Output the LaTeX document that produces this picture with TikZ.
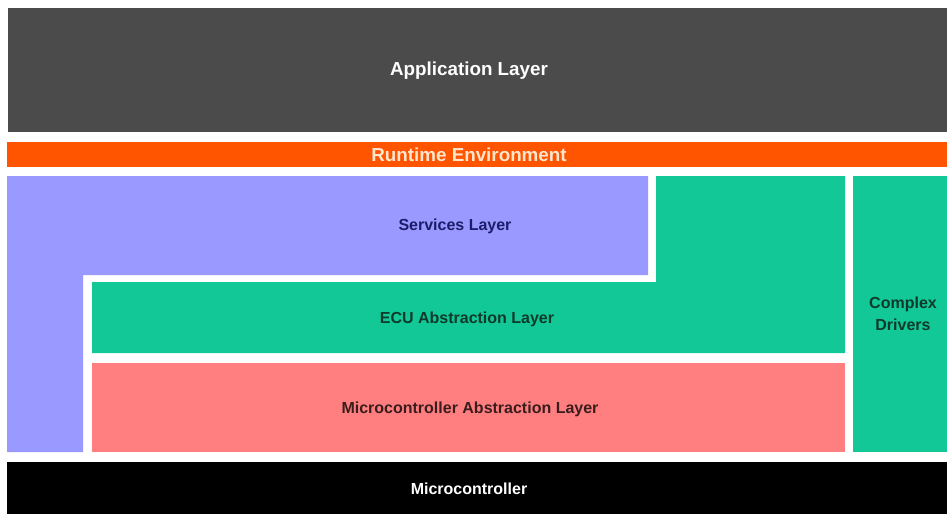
\documentclass[tikz,border=0pt]{standalone}
\usepackage{fontspec}
\setmainfont{Liberation Sans}
\definecolor{appgray}{HTML}{4B4B4B}
\definecolor{rteorange}{HTML}{FF5400}
\definecolor{svcpurple}{HTML}{9999FF}
\definecolor{ecugreen}{HTML}{12C896}
\definecolor{mcalred}{HTML}{FF7F80}
\definecolor{svctext}{HTML}{1C1C6A}
\definecolor{ecutext}{HTML}{0E3A2C}
\definecolor{mcaltext}{HTML}{3A1C1C}
\definecolor{rtetext}{HTML}{FFE6CC}
\tikzset{
  lbl/.style={font=\bfseries\fontsize{16}{22}\selectfont, inner sep=0pt, align=center},
  biglbl/.style={font=\bfseries\fontsize{18.8}{22}\selectfont, inner sep=0pt}
}
\begin{document}
\begin{tikzpicture}[x=1pt,y=-1pt]
  \fill[white] (0,0) rectangle (947,514);
  \useasboundingbox (0,0) rectangle (947,514);
  % Application layer
  \fill[appgray] (8,8) rectangle (947,132);
  % RTE
  \fill[rteorange] (7,142) rectangle (947,167);
  % Services (L-shape)
  \fill[svcpurple] (7,176) -- (648,176) -- (648,275) -- (83,275) -- (83,452) -- (7,452) -- cycle;
  % ECU abstraction (L-shape)
  \fill[ecugreen] (656,176) -- (845,176) -- (845,353) -- (92,353) -- (92,282) -- (656,282) -- cycle;
  % MCAL
  \fill[mcalred] (92,363) rectangle (845,452);
  % Complex drivers
  \fill[ecugreen] (853,176) rectangle (947,452);
  % Microcontroller
  \fill[black] (7,462) rectangle (947,514);

  \node[biglbl, text=white] (app) at (469,71) {Application Layer};
  \node[biglbl, text=rtetext] (rte) at (469,155) {Runtime Environment};
  \node[lbl, text=svctext] (svc) at (455,226) {Services Layer};
  \node[lbl, text=ecutext] (ecu) at (467,319) {ECU Abstraction Layer};
  \node[lbl, text=mcaltext] (mcal) at (470,409) {Microcontroller Abstraction Layer};
  \node[lbl, text=ecutext] (cdd) at (903,314) {Complex\\Drivers};
  \node[lbl, text=white] (mcu) at (469,489) {Microcontroller};
\end{tikzpicture}
\end{document}
